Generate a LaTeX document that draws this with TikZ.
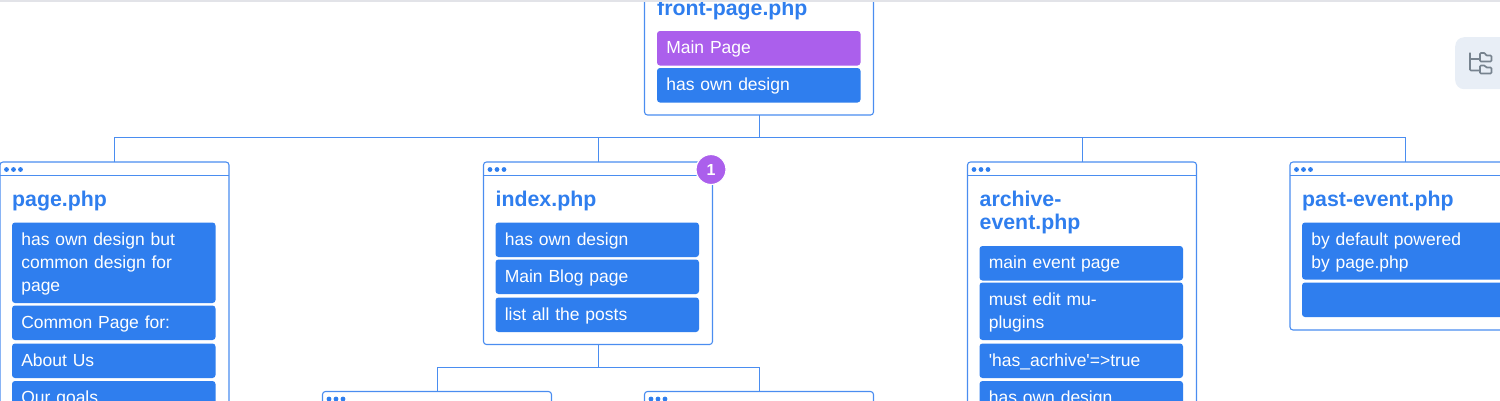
\documentclass[tikz,border=0pt]{standalone}
\usepackage{fontspec}
\setmainfont{Liberation Sans}
\newfontfamily\rawfont{Liberation Sans}
\definecolor{bluefill}{HTML}{2F7EEE}
\definecolor{blueline}{HTML}{4A8DF0}
\definecolor{purplefill}{HTML}{AB5FEC}
\definecolor{chipfill}{HTML}{E8EEF6}
\definecolor{icongray}{HTML}{77838F}
\definecolor{topbar}{HTML}{E2E3E8}
\newcommand{\itemstrut}{\rule[-5.9pt]{0pt}{23pt}}
\tikzset{
  x=1pt,y=-1pt,
  cardbox/.style={draw=blueline,line width=1.1pt,fill=white,rounded corners=3pt,anchor=north west,inner sep=0pt,outer sep=0pt},
  itembox/.style={fill=bluefill,draw=none,rounded corners=3pt,anchor=north west,inner xsep=9.3pt,inner ysep=0pt,outer sep=0pt,
     text=white,align=left,font=\fontsize{17.5}{23}\selectfont},
  purplebox/.style={itembox,fill=purplefill},
  cardtitle/.style={anchor=base west,inner sep=0pt,text=bluefill,align=left,font=\fontsize{21.3}{23}\selectfont\bfseries},
  conn/.style={draw=blueline,line width=1.1pt},
  badge/.style={circle,fill=purplefill,draw=white,line width=1.2pt,minimum size=30pt,inner sep=0pt,text=white,font=\fontsize{16}{16}\selectfont\bfseries},
}
\newcommand{\chrome}[1]{%
  \draw[conn] ([yshift=-13.5pt]#1.north west) -- ([yshift=-13.5pt]#1.north east);
  \foreach \dx in {6.5,13.5,20.5}{\fill[bluefill] ([xshift=\dx pt,yshift=-7.5pt]#1.north west) circle[radius=2.4pt];}
}
\newcommand{\itemnode}[7][itembox]{% style, name, x, y, w, h, text
  \node[#1,text width=#5pt-18.6pt,minimum height=#6pt] (#2) at (#3,#4) {\itemstrut #7\itemstrut};
}
\begin{document}
\begin{tikzpicture}
\useasboundingbox (0,0) rectangle (1500,400);
\clip (0,0) rectangle (1500,400);
% cards
\node[cardbox,minimum width=229pt,minimum height=135pt] (front) at (644.5,-20) {};
\node[cardbox,minimum width=229pt,minimum height=300pt] (page) at (0,162) {};
\node[cardbox,minimum width=229pt,minimum height=182.5pt] (index) at (483.5,162) {};
\node[cardbox,minimum width=229pt,minimum height=300pt] (archive) at (967.5,162) {};
\node[cardbox,minimum width=230pt,minimum height=168pt] (past) at (1290,162) {};
\node[cardbox,minimum width=229pt,minimum height=100pt] (single) at (322.5,391.5) {};
\node[cardbox,minimum width=229pt,minimum height=100pt] (other) at (644.5,391.5) {};
% connectors
\coordinate (bus) at (759.5,137.5);
\coordinate (subbus) at (598.5,367.5);
\draw[conn] ([xshift=.5pt]front.south) -- (bus);
\draw[conn] (page.north) |- (bus) -| ([xshift=.5pt]past.north);
\draw[conn] ([xshift=.5pt]index.north) -- ([xshift=.5pt]index.north |- bus);
\draw[conn] ([xshift=.5pt]archive.north) -- ([xshift=.5pt]archive.north |- bus);
\draw[conn] ([xshift=.5pt]index.south) -- (subbus);
\draw[conn] ([xshift=.5pt]single.north) |- (subbus) -| ([xshift=.5pt]other.north);
% chrome
\chrome{page}\chrome{index}\chrome{archive}\chrome{past}\chrome{single}\chrome{other}
% titles
\node[cardtitle] (t1) at (657,15) {front-page.php};
\node[cardtitle] (t2) at (12,206.5) {page.php};
\node[cardtitle] (t3) at (495.5,206.5) {index.php};
\node[cardtitle] (t4) at (979.5,229.5) {archive-\\event.php};
\node[cardtitle] (t5) at (1302,206.5) {past-event.php};
% items
\itemnode[purplebox]{f1}{657}{31}{203.5}{34.5}{Main Page}
\itemnode{f2}{657}{68}{203.5}{34.5}{has own design}
\itemnode{p1}{12}{222.5}{203.5}{80.5}{has own design but\\common design for\\page}
\itemnode{p2}{12}{305.5}{203.5}{34.5}{Common Page for:}
\itemnode{p3}{12}{343.5}{203.5}{34.5}{About Us}
\itemnode{p4}{12}{381}{203.5}{34.5}{Our goals}
\itemnode{i1}{495.5}{222.5}{203.5}{34.5}{has own design}
\itemnode{i2}{495.5}{259.5}{203.5}{34.5}{Main Blog page}
\itemnode{i3}{495.5}{297.5}{203.5}{34.5}{list all the posts}
\itemnode{a1}{979.5}{246}{203.5}{34.5}{main event page}
\itemnode{a2}{979.5}{282.5}{203.5}{57.5}{must edit mu-\\plugins}
\itemnode{a3}{979.5}{343.5}{203.5}{34.5}{{\rawfont 'has\_acrhive'=>true}}
\itemnode{a4}{979.5}{381}{203.5}{34.5}{has own design}
\itemnode{e1}{1302}{222.5}{205}{57}{by default powered\\by page.php}
\itemnode{e2}{1302}{282.5}{205}{34.5}{}
% badge
\node[badge] (b1) at (711,169.5) {1};
% icon chip
\node[fill=chipfill,rounded corners=9pt,anchor=north west,minimum width=70pt,minimum height=52pt,inner sep=0pt] (chip) at (1455,37) {};
\begin{scope}[icongray,line width=1.7pt,rounded corners=1pt]
\draw (1470,52.5) -- (1470,70.5) -- (1480,70.5);
\draw (1470,59) -- (1480,59);
\draw (1480,53) -- (1485,53) -- (1486,55.5) -- (1491.5,55.5) -- (1491.5,61.5) -- (1480,61.5) -- cycle;
\draw (1480,65.5) -- (1485,65.5) -- (1486,67.5) -- (1491.5,67.5) -- (1491.5,73.5) -- (1480,73.5) -- cycle;
\end{scope}
% top bar
\fill[topbar] (0,0) rectangle (1500,2);
\end{tikzpicture}
\end{document}
